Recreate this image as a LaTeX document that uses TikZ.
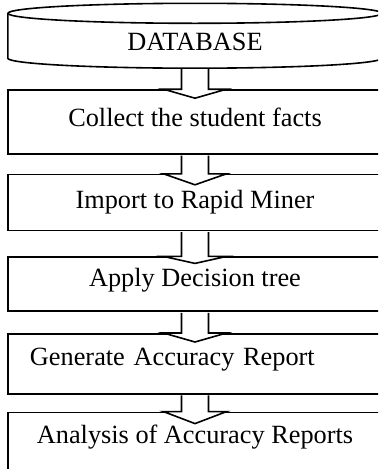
\documentclass[tikz,border=0pt]{standalone}
\usepackage{fontspec}
\setmainfont{Liberation Serif}
\usetikzlibrary{positioning}
\tikzstyle{dbase} = [rectangle, 
minimum width=374pt, 
minimum height=64.5pt, 
inner sep=0pt, 
text height=29.5pt, 
text depth=0pt]
\tikzstyle{process} = [rectangle, 
minimum width=374pt, 
inner sep=0pt, 
text height=18pt, 
text depth=10pt, 
text centered, 
line width=1.6pt, 
draw=black]
\tikzstyle{blockarrow} = [line width=1.6pt, draw=black, fill=white]

% hollow block arrow from the bottom of #2 into the top of #3, tip #1 deep
\newcommand{\flowarrow}[3][10pt]{%
  \draw [blockarrow] ([xshift=-13.5pt, yshift=-0.8pt]#2.south)
    -- ([xshift=-13.5pt]#3.north) -- ([xshift=-31.5pt]#3.north)
    -- ([yshift=-#1]#3.north)
    -- ([xshift=31.5pt]#3.north) -- ([xshift=13.5pt]#3.north)
    -- ([xshift=13.5pt, yshift=-0.8pt]#2.south);}

\begin{document}
\begin{tikzpicture}[node distance=20pt, font=\fontsize{26.3pt}{30pt}\selectfont]
        \useasboundingbox (0,0) rectangle (378pt,-469pt);
        \clip (0,0) rectangle (378pt,-469pt);

        % Base de datos (cilindro)
        \node (db) [dbase] at (195pt,-35.75pt) {DATABASE};
        \draw [line width=1.6pt] ([yshift=-10pt]db.north) ellipse [x radius=187pt, y radius=10pt];
        \draw [line width=1.6pt] ([yshift=-10pt]db.north west) -- ([yshift=10pt]db.south west)
            arc [start angle=180, end angle=360, x radius=187pt, y radius=10pt]
            -- ([yshift=-10pt]db.north east);

        % Pasos del proceso
        \node (collect) [process, minimum height=64pt, below=21pt of db] {Collect the student facts};
        \node (import) [process, minimum height=56pt, text depth=6pt, below=19pt of collect] {Import to Rapid Miner};
        \node (tree) [process, minimum height=54pt, text depth=14pt, below=25pt of import] {Apply Decision tree};
        \node (report) [process, minimum height=60pt, text depth=14pt, text width=330pt, align=left, inner xsep=22pt, below=21pt of tree] {Generate Accuracy Report};
        \node (analysis) [process, minimum height=80pt, text depth=36pt, below=17pt of report] {Analysis of Accuracy Reports};

        % Flechas de bloque
        \flowarrow[9pt]{db}{collect}
        \flowarrow[11pt]{collect}{import}
        \flowarrow[7pt]{import}{tree}
        \flowarrow[9pt]{tree}{report}
        \flowarrow[12pt]{report}{analysis}

    \end{tikzpicture}
\end{document}
